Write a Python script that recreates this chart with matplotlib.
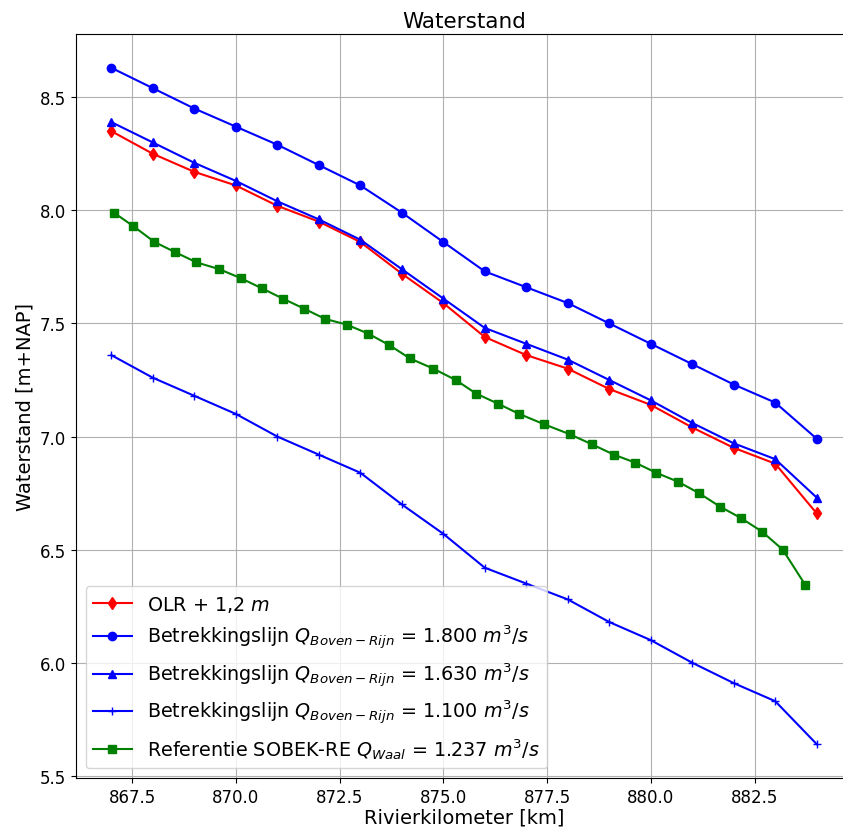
import matplotlib
matplotlib.use("Agg")
import matplotlib.pyplot as plt
import numpy as np

# rivierkilometers for the betrekkingslijnen and OLR
km = np.arange(867, 885)

olr = [8.35, 8.25, 8.17, 8.11, 8.02, 7.95, 7.86, 7.72, 7.59,
       7.44, 7.36, 7.30, 7.21, 7.14, 7.04, 6.95, 6.88, 6.66]
q1800 = [8.63, 8.54, 8.45, 8.37, 8.29, 8.20, 8.11, 7.99, 7.86,
         7.73, 7.66, 7.59, 7.50, 7.41, 7.32, 7.23, 7.15, 6.99]
q1630 = [8.39, 8.30, 8.21, 8.13, 8.04, 7.96, 7.87, 7.74, 7.61,
         7.48, 7.41, 7.34, 7.25, 7.16, 7.06, 6.97, 6.90, 6.73]
q1100 = [7.36, 7.26, 7.18, 7.10, 7.00, 6.92, 6.84, 6.70, 6.57,
         6.42, 6.35, 6.28, 6.18, 6.10, 6.00, 5.91, 5.83, 5.64]

# SOBEK-RE reference (Waal)
sobek_km = [867.06, 867.53, 868.04, 868.54, 869.05, 869.60, 870.12, 870.63,
            871.13, 871.65, 872.15, 872.67, 873.19, 873.69, 874.20, 874.76,
            875.30, 875.79, 876.32, 876.83, 877.42, 878.05, 878.59, 879.11,
            879.62, 880.13, 880.66, 881.16, 881.67, 882.17, 882.68, 883.18,
            883.72]
sobek_ws = [7.99, 7.93, 7.86, 7.815, 7.77, 7.74, 7.70, 7.655,
            7.61, 7.565, 7.52, 7.495, 7.455, 7.405, 7.345, 7.30,
            7.25, 7.19, 7.145, 7.10, 7.055, 7.01, 6.965, 6.92,
            6.885, 6.84, 6.80, 6.75, 6.69, 6.64, 6.58, 6.50,
            6.345]

fig = plt.figure(figsize=(8.43, 8.29), dpi=100)
ax = fig.add_axes([0.0902, 0.0603, 0.9205, 0.8975])

ax.plot(km, olr, color="red", marker="d", label=r"OLR + 1,2 $m$")
ax.plot(km, q1800, color="blue", marker="o",
        label=r"Betrekkingslijn $Q_{Boven-Rijn}$ = 1.800 $m^3/s$")
ax.plot(km, q1630, color="blue", marker="^",
        label=r"Betrekkingslijn $Q_{Boven-Rijn}$ = 1.630 $m^3/s$")
ax.plot(km, q1100, color="blue", marker="+",
        label=r"Betrekkingslijn $Q_{Boven-Rijn}$ = 1.100 $m^3/s$")
ax.plot(sobek_km, sobek_ws, color="green", marker="s",
        label=r"Referentie SOBEK-RE $Q_{Waal}$ = 1.237 $m^3/s$")

ax.set_xlim(866.15, 884.85)
ax.set_ylim(5.4905, 8.7795)
ax.grid(True)
ax.tick_params(labelsize=12)
ax.set_title("Waterstand", fontsize=15.5, pad=5)
ax.set_xlabel("Rivierkilometer [km]", fontsize=14, labelpad=1)
ax.set_ylabel("Waterstand [m+NAP]", fontsize=14)
ax.legend(loc="lower left", fontsize=13.8)

fig.savefig("out.png", dpi=100)
